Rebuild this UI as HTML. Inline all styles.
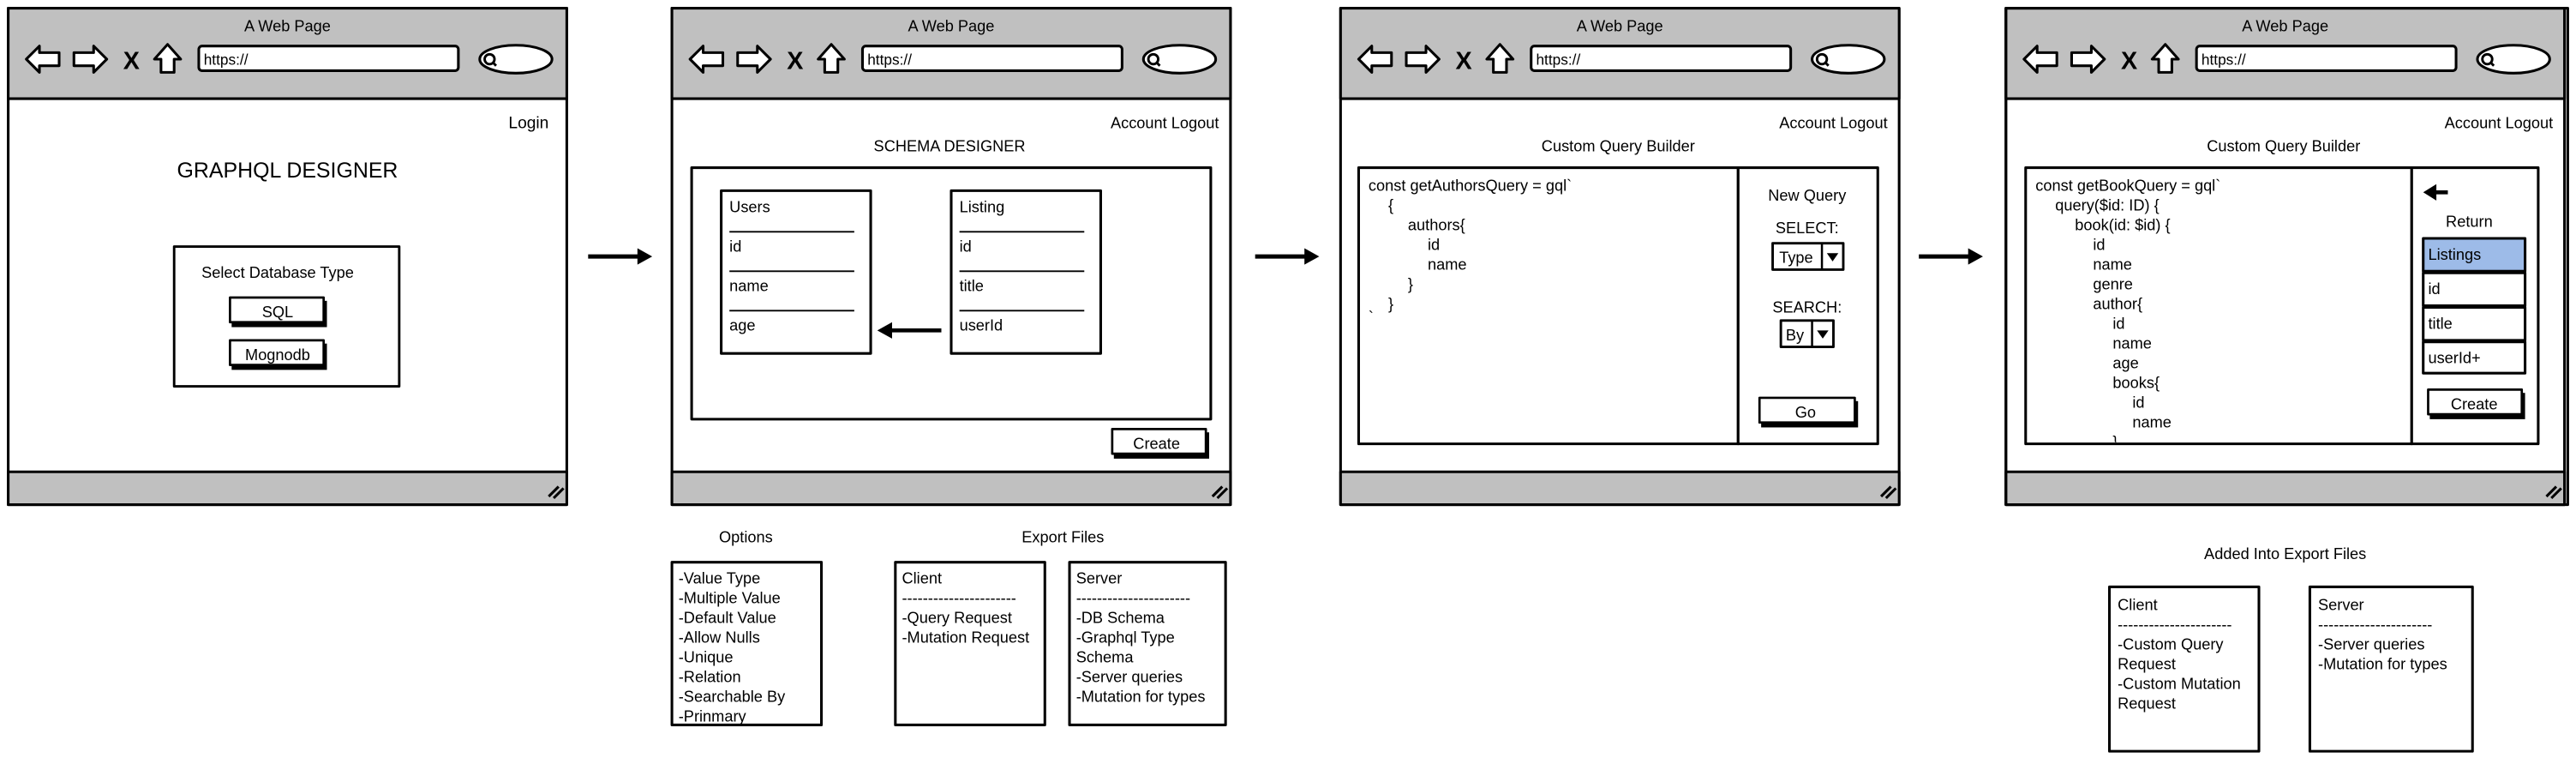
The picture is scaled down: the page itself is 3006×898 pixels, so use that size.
<!DOCTYPE html>
<html><head><meta charset="utf-8"><style>
html,body{margin:0;padding:0;background:#fff;}
svg{display:block;}
text{font-family:"Liberation Sans",sans-serif;fill:#000;}
</style></head><body>
<svg width="3006" height="898" viewBox="0 0 1568 468.4" preserveAspectRatio="none" xmlns="http://www.w3.org/2000/svg">
<defs>
<g id="frame">
  <rect x="0" y="0" width="340" height="302" fill="#fff" stroke="#000" stroke-width="1.6"/>
  <rect x="0" y="0" width="340" height="55" fill="#c0c0c0" stroke="#000" stroke-width="1.6"/>
  <rect x="0" y="282" width="340" height="20" fill="#c0c0c0" stroke="#000" stroke-width="1.6"/>
  <text x="170" y="14" font-size="9.5" text-anchor="middle">A Web Page</text>
  <polygon points="11,31 19,23 19,27 31,27 31,35 19,35 19,39" fill="#fff" stroke="#000" stroke-width="1.6"/>
  <polygon points="60,31 52,23 52,27 40,27 40,35 52,35 52,39" fill="#fff" stroke="#000" stroke-width="1.6"/>
  <text x="70" y="37" font-size="15" font-weight="bold">X</text>
  <polygon points="97,22 89,31 93,31 93,39 101,39 101,31 105,31" fill="#fff" stroke="#000" stroke-width="1.6"/>
  <rect x="116" y="23" width="158" height="15" fill="#fff" stroke="#000" stroke-width="1.6" rx="2"/>
  <text x="119" y="34.5" font-size="9">https://</text>
  <ellipse cx="309" cy="31" rx="22" ry="8.5" fill="#fff" stroke="#000" stroke-width="1.6"/>
  <circle cx="293" cy="31" r="3" fill="none" stroke="#000" stroke-width="1.5"/>
  <line x1="295" y1="33" x2="297" y2="35" stroke="#000" stroke-width="1.5"/>
  <line x1="329" y1="297" x2="335" y2="291" stroke="#000" stroke-width="1.6"/>
  <line x1="332" y1="298" x2="338" y2="292" stroke="#000" stroke-width="1.6"/>
</g>
<g id="arrow">
  <line x1="0" y1="0" x2="32" y2="0" stroke="#000" stroke-width="2.6"/>
  <polygon points="30,-5 39,0 30,5" fill="#000"/>
</g>
<clipPath id="c4"><rect x="1233" y="102" width="235" height="167"/></clipPath>
</defs>
<g stroke-linejoin="round">
<!-- Frame 1 -->
<use href="#frame" x="5" y="5"/>
<text x="334" y="78" font-size="10" text-anchor="end">Login</text>
<text x="175" y="108" font-size="13" text-anchor="middle">GRAPHQL DESIGNER</text>
<rect x="106" y="150" width="137" height="85" fill="#fff" stroke="#000" stroke-width="1.5"/>
<text x="169" y="169" font-size="9.5" text-anchor="middle">Select Database Type</text>
<rect x="141" y="183" width="58" height="16" fill="#000"/>
<rect x="140" y="181" width="57" height="15" fill="#fff" stroke="#000" stroke-width="1.4"/>
<text x="169" y="193" font-size="9.5" text-anchor="middle">SQL</text>
<rect x="141" y="209" width="58" height="16" fill="#000"/>
<rect x="140" y="207" width="57" height="15" fill="#fff" stroke="#000" stroke-width="1.4"/>
<text x="169" y="219" font-size="9.5" text-anchor="middle">Mognodb</text>

<use href="#arrow" x="358" y="156"/>

<!-- Frame 2 -->
<use href="#frame" x="409" y="5"/>
<text x="742" y="78" font-size="9.5" text-anchor="end">Account  Logout</text>
<text x="578" y="92" font-size="9.5" text-anchor="middle">SCHEMA DESIGNER</text>
<rect x="421" y="102" width="316" height="153" fill="#fff" stroke="#000" stroke-width="1.6"/>
<rect x="439" y="116" width="91" height="99" fill="#fff" stroke="#000" stroke-width="1.6"/>
<text x="444" y="129" font-size="9.5">Users</text>
<line x1="444" y1="141" x2="520" y2="141" stroke="#000" stroke-width="1"/>
<text x="444" y="153" font-size="9.5">id</text>
<line x1="444" y1="165" x2="520" y2="165" stroke="#000" stroke-width="1"/>
<text x="444" y="177" font-size="9.5">name</text>
<line x1="444" y1="189" x2="520" y2="189" stroke="#000" stroke-width="1"/>
<text x="444" y="201" font-size="9.5">age</text>
<rect x="579" y="116" width="91" height="99" fill="#fff" stroke="#000" stroke-width="1.6"/>
<text x="584" y="129" font-size="9.5">Listing</text>
<line x1="584" y1="141" x2="660" y2="141" stroke="#000" stroke-width="1"/>
<text x="584" y="153" font-size="9.5">id</text>
<line x1="584" y1="165" x2="660" y2="165" stroke="#000" stroke-width="1"/>
<text x="584" y="177" font-size="9.5">title</text>
<line x1="584" y1="189" x2="660" y2="189" stroke="#000" stroke-width="1"/>
<text x="584" y="201" font-size="9.5">userId</text>
<line x1="573" y1="201" x2="542" y2="201" stroke="#000" stroke-width="2.4"/>
<polygon points="543,196 534,201 543,206" fill="#000"/>
<rect x="678" y="263" width="58" height="16" fill="#000"/>
<rect x="677" y="261" width="57" height="15" fill="#fff" stroke="#000" stroke-width="1.4"/>
<text x="704" y="273" font-size="9.5" text-anchor="middle">Create</text>

<text x="454" y="330" font-size="9.5" text-anchor="middle">Options</text>
<rect x="409" y="342" width="91" height="99" fill="#fff" stroke="#000" stroke-width="1.6"/>
<g font-size="9.5">
<text x="413" y="355">-Value Type</text>
<text x="413" y="367">-Multiple Value</text>
<text x="413" y="379">-Default Value</text>
<text x="413" y="391">-Allow Nulls</text>
<text x="413" y="403">-Unique</text>
<text x="413" y="415">-Relation</text>
<text x="413" y="427">-Searchable By</text>
<text x="413" y="439">-Prinmary</text>
</g>
<text x="647" y="330" font-size="9.5" text-anchor="middle">Export Files</text>
<rect x="545" y="342" width="91" height="99" fill="#fff" stroke="#000" stroke-width="1.6"/>
<g font-size="9.5">
<text x="549" y="355">Client</text>
<text x="549" y="367">----------------------</text>
<text x="549" y="379">-Query Request</text>
<text x="549" y="391">-Mutation Request</text>
</g>
<rect x="651" y="342" width="95" height="99" fill="#fff" stroke="#000" stroke-width="1.6"/>
<g font-size="9.5">
<text x="655" y="355">Server</text>
<text x="655" y="367">----------------------</text>
<text x="655" y="379">-DB Schema</text>
<text x="655" y="391">-Graphql Type</text>
<text x="655" y="403">Schema</text>
<text x="655" y="415">-Server queries</text>
<text x="655" y="427">-Mutation for types</text>
</g>

<use href="#arrow" x="764" y="156"/>

<!-- Frame 3 -->
<use href="#frame" x="816" y="5"/>
<text x="1149" y="78" font-size="9.5" text-anchor="end">Account  Logout</text>
<text x="985" y="92" font-size="9.5" text-anchor="middle">Custom Query Builder</text>
<rect x="827" y="102" width="231" height="168" fill="#fff" stroke="#000" stroke-width="1.6"/>
<rect x="1058" y="102" width="85" height="168" fill="#fff" stroke="#000" stroke-width="1.6"/>
<g font-size="9.5">
<text x="833" y="116">const getAuthorsQuery = gql`</text>
<text x="845" y="128">{</text>
<text x="857" y="140">authors{</text>
<text x="869" y="152">id</text>
<text x="869" y="164">name</text>
<text x="857" y="176">}</text>
<text x="845" y="188">}</text>
<text x="833" y="196">`</text>
</g>
<text x="1100" y="122" font-size="9.5" text-anchor="middle">New Query</text>
<text x="1100" y="142" font-size="9.5" text-anchor="middle">SELECT:</text>
<rect x="1079" y="148" width="43" height="16" fill="#fff" stroke="#000" stroke-width="1.5"/>
<line x1="1109" y1="148" x2="1109" y2="164" stroke="#000" stroke-width="1.3"/>
<text x="1083" y="160" font-size="9.5">Type</text>
<polygon points="1112,154 1119,154 1115.5,159" fill="#000"/>
<text x="1100" y="190" font-size="9.5" text-anchor="middle">SEARCH:</text>
<rect x="1084" y="195" width="32" height="16" fill="#fff" stroke="#000" stroke-width="1.5"/>
<line x1="1103" y1="195" x2="1103" y2="211" stroke="#000" stroke-width="1.3"/>
<text x="1087" y="207" font-size="9.5">By</text>
<polygon points="1106,201 1113,201 1109.5,206" fill="#000"/>
<rect x="1072" y="244" width="59" height="16" fill="#000"/>
<rect x="1071" y="242" width="58" height="15" fill="#fff" stroke="#000" stroke-width="1.4"/>
<text x="1099" y="254" font-size="9.5" text-anchor="middle">Go</text>

<use href="#arrow" x="1168" y="156"/>

<!-- Frame 4 -->
<use href="#frame" x="1221" y="5" transform="translate(0,0)"/>
<rect x="1221" y="5" width="342" height="302" fill="none" stroke="#000" stroke-width="1.6"/>
<text x="1554" y="78" font-size="9.5" text-anchor="end">Account  Logout</text>
<text x="1390" y="92" font-size="9.5" text-anchor="middle">Custom Query Builder</text>
<rect x="1233" y="102" width="235" height="168" fill="#fff" stroke="#000" stroke-width="1.6"/>
<rect x="1468" y="102" width="77" height="168" fill="#fff" stroke="#000" stroke-width="1.6"/>
<g font-size="9.5" clip-path="url(#c4)">
<text x="1239" y="116">const getBookQuery = gql`</text>
<text x="1251" y="128">query($id: ID) {</text>
<text x="1263" y="140">book(id: $id) {</text>
<text x="1274" y="152">id</text>
<text x="1274" y="164">name</text>
<text x="1274" y="176">genre</text>
<text x="1274" y="188">author{</text>
<text x="1286" y="200">id</text>
<text x="1286" y="212">name</text>
<text x="1286" y="224">age</text>
<text x="1286" y="236">books{</text>
<text x="1298" y="248">id</text>
<text x="1298" y="260">name</text>
<text x="1286" y="272">}</text>
</g>
<line x1="1490" y1="117" x2="1481" y2="117" stroke="#000" stroke-width="2.4"/>
<polygon points="1483,112 1475,117 1483,122" fill="#000"/>
<text x="1503" y="138" font-size="9.5" text-anchor="middle">Return</text>
<rect x="1475" y="145" width="62" height="20" fill="#9dbbe8" stroke="#000" stroke-width="1.6"/>
<text x="1478" y="158" font-size="9.5">Listings</text>
<rect x="1475" y="166" width="62" height="20" fill="#fff" stroke="#000" stroke-width="1.6"/>
<text x="1478" y="179" font-size="9.5">id</text>
<rect x="1475" y="187" width="62" height="20" fill="#fff" stroke="#000" stroke-width="1.6"/>
<text x="1478" y="200" font-size="9.5">title</text>
<rect x="1475" y="208" width="62" height="19" fill="#fff" stroke="#000" stroke-width="1.6"/>
<text x="1478" y="221" font-size="9.5">userId+</text>
<rect x="1479" y="239" width="58" height="16" fill="#000"/>
<rect x="1478" y="237" width="57" height="15" fill="#fff" stroke="#000" stroke-width="1.4"/>
<text x="1506" y="249" font-size="9.5" text-anchor="middle">Create</text>

<text x="1391" y="340" font-size="9.5" text-anchor="middle">Added Into Export Files</text>
<rect x="1284" y="357" width="91" height="100" fill="#fff" stroke="#000" stroke-width="1.6"/>
<g font-size="9.5">
<text x="1289" y="371">Client</text>
<text x="1289" y="383">----------------------</text>
<text x="1289" y="395">-Custom Query</text>
<text x="1289" y="407">Request</text>
<text x="1289" y="419">-Custom Mutation</text>
<text x="1289" y="431">Request</text>
</g>
<rect x="1406" y="357" width="99" height="100" fill="#fff" stroke="#000" stroke-width="1.6"/>
<g font-size="9.5">
<text x="1411" y="371">Server</text>
<text x="1411" y="383">----------------------</text>
<text x="1411" y="395">-Server queries</text>
<text x="1411" y="407">-Mutation for types</text>
</g>
</g>
</svg>
</body></html>
